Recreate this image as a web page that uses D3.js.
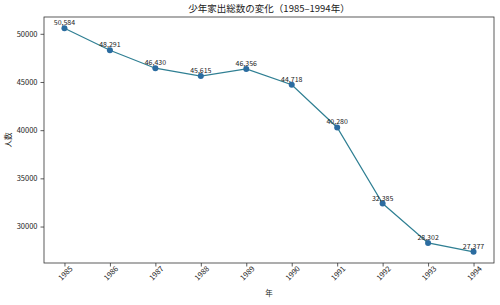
<!DOCTYPE html>
<html>
<head>
<meta charset="utf-8">
<script src="https://cdn.jsdelivr.net/npm/d3@7"></script>
<style>
  body { margin: 0; background: #fff; }
  text { font-family: "Noto Sans CJK JP", "DejaVu Sans", sans-serif; fill: #222; }
</style>
</head>
<body>
<script>
/* Data */
const years = [1985, 1986, 1987, 1988, 1989, 1990, 1991, 1992, 1993, 1994];
const counts = [50584, 48291, 46430, 45615, 46356, 44718, 40280, 32385, 28302, 27377];
const yTicks = [30000, 35000, 40000, 45000, 50000];

/* Constants */
const w = 500;
const h = 305;
const m = { left: 44, right: 6, top: 17, bottom: 42 };

const svg = d3.select("body").append("svg")
  .attr("width", w)
  .attr("height", h);

/* Scales (matplotlib style 5% margins) */
const xPad = (years[years.length - 1] - years[0]) * 0.05;
const xScale = d3.scaleLinear()
  .domain([years[0] - xPad, years[years.length - 1] + xPad])
  .range([m.left, w - m.right]);

const yMin = d3.min(counts), yMax = d3.max(counts);
const yPad = (yMax - yMin) * 0.05;
const yScale = d3.scaleLinear()
  .domain([yMin - yPad, yMax + yPad])
  .range([h - m.bottom, m.top]);

/* Axes */
const xAxis = d3.axisBottom(xScale).tickValues(years).tickFormat(d => d).tickSize(3.5).tickPadding(3);
const yAxis = d3.axisLeft(yScale).tickValues(yTicks).tickFormat(d => d).tickSize(3.5).tickPadding(3);

const gx = svg.append("g")
  .attr("transform", "translate(0," + (h - m.bottom) + ")")
  .call(xAxis);
gx.select(".domain").remove();
gx.selectAll("text")
  .style("font-size", "7.5px")
  .attr("text-anchor", "end")
  .attr("dx", "0.2em")
  .attr("dy", "0.5em")
  .attr("transform", "rotate(-45)");

const gy = svg.append("g")
  .attr("transform", "translate(" + m.left + ",0)")
  .call(yAxis);
gy.select(".domain").remove();
gy.selectAll("text").style("font-size", "7.5px");

svg.selectAll(".tick line").attr("stroke", "#333").attr("stroke-width", 0.8);

/* Frame */
svg.append("rect")
  .attr("x", m.left)
  .attr("y", m.top)
  .attr("width", w - m.left - m.right)
  .attr("height", h - m.top - m.bottom)
  .attr("fill", "none")
  .attr("stroke", "#333")
  .attr("stroke-width", 0.8);

/* Line */
const line = d3.line()
  .x((d, i) => xScale(years[i]))
  .y(d => yScale(d));

svg.append("path")
  .datum(counts)
  .attr("d", line)
  .attr("fill", "none")
  .attr("stroke", "#2f7f93")
  .attr("stroke-width", 1.2);

/* Markers */
svg.selectAll("circle")
  .data(counts)
  .enter()
  .append("circle")
  .attr("cx", (d, i) => xScale(years[i]))
  .attr("cy", d => yScale(d))
  .attr("r", 3)
  .attr("fill", "#2b6ca0");

/* Value labels */
svg.selectAll(".val")
  .data(counts)
  .enter()
  .append("text")
  .attr("class", "val")
  .attr("x", (d, i) => xScale(years[i]))
  .attr("y", d => yScale(d) - 3)
  .attr("text-anchor", "middle")
  .style("font-size", "7px")
  .text(d => d3.format(",")(d));

/* Titles */
svg.append("text")
  .attr("x", (m.left + w - m.right) / 2)
  .attr("y", 12)
  .attr("text-anchor", "middle")
  .style("font-size", "9.5px")
  .text("少年家出総数の変化（1985–1994年）");

svg.append("text")
  .attr("x", (m.left + w - m.right) / 2)
  .attr("y", 296)
  .attr("text-anchor", "middle")
  .style("font-size", "7.5px")
  .text("年");

svg.append("text")
  .attr("transform", "translate(11," + ((m.top + h - m.bottom) / 2) + ") rotate(-90)")
  .attr("text-anchor", "middle")
  .style("font-size", "7.5px")
  .text("人数");
</script>
</body>
</html>
